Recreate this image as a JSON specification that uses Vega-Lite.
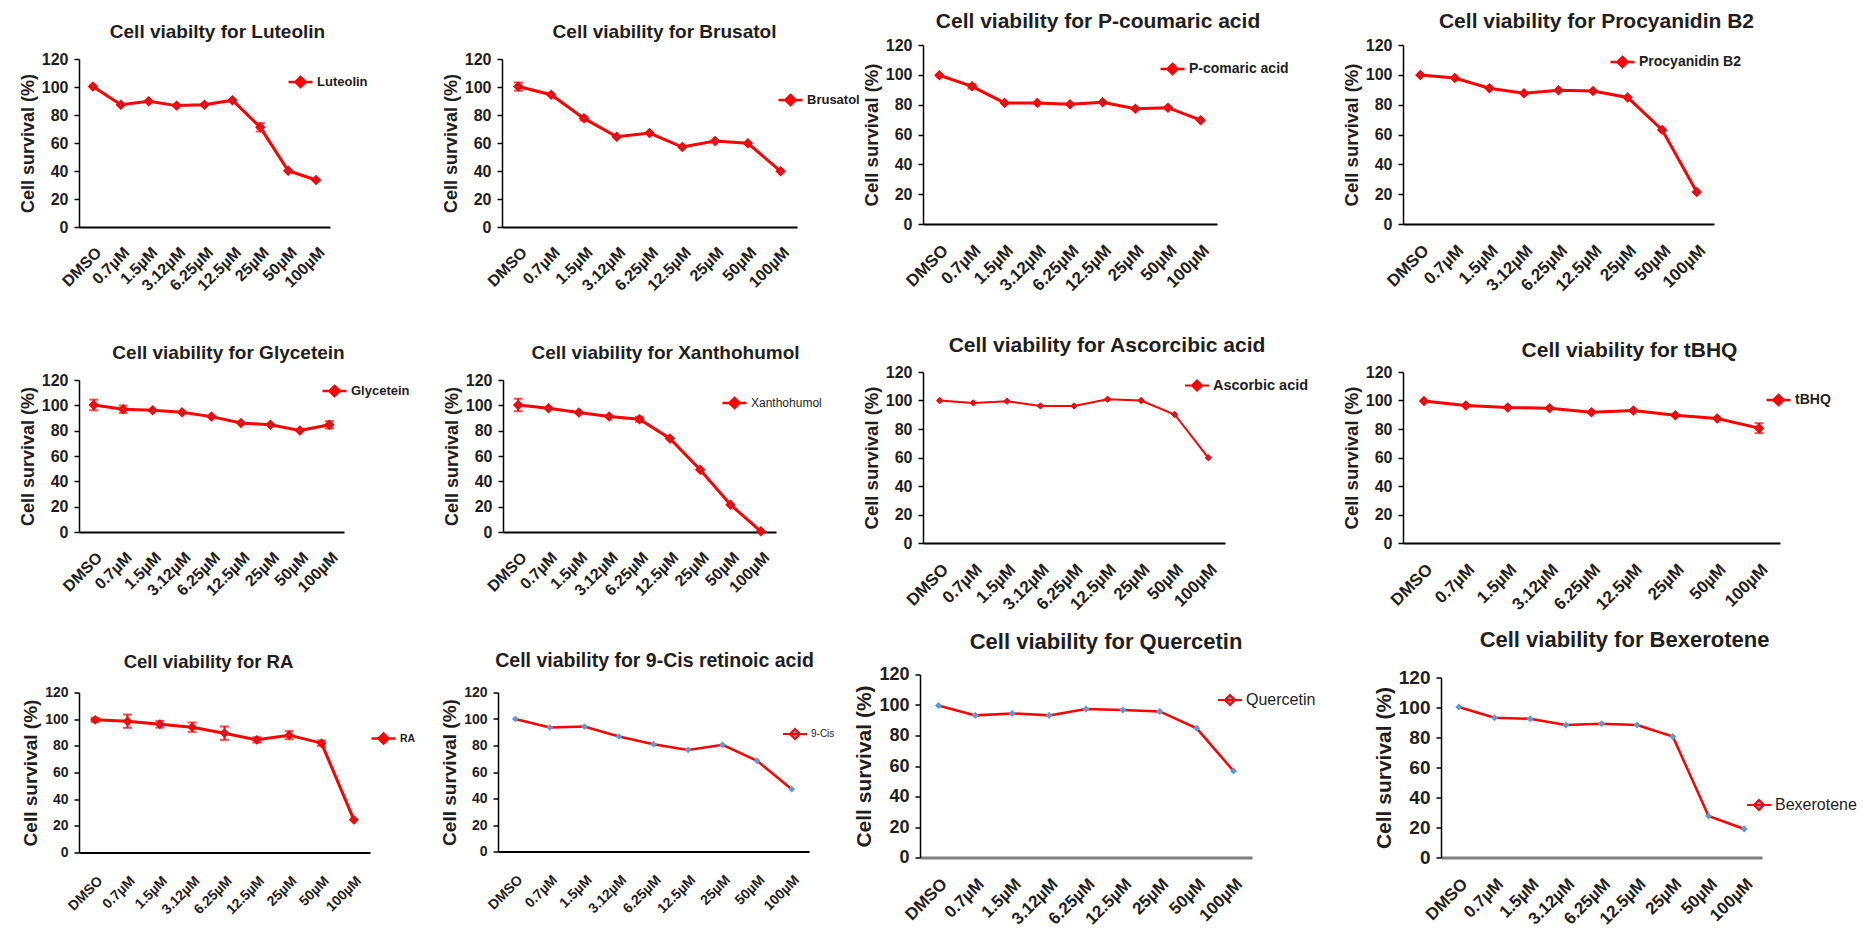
{
"$schema": "https://vega.github.io/schema/vega-lite/v6.json",
"padding": {"left": 19, "top": 11, "right": 0, "bottom": 0},
"background": "white",
"datasets": {"d": [
{"c":"Luteolin","conc":"DMSO","v":100.3},{"c":"Luteolin","conc":"0.7µM","v":87.4},{"c":"Luteolin","conc":"1.5µM","v":89.8},{"c":"Luteolin","conc":"3.12µM","v":86.7},{"c":"Luteolin","conc":"6.25µM","v":87.4},{"c":"Luteolin","conc":"12.5µM","v":90.6},{"c":"Luteolin","conc":"25µM","v":71.2,"err":3},{"c":"Luteolin","conc":"50µM","v":40.2},{"c":"Luteolin","conc":"100µM","v":33.6},
{"c":"Brusatol","conc":"DMSO","v":100.3,"err":2.9},{"c":"Brusatol","conc":"0.7µM","v":94.5},{"c":"Brusatol","conc":"1.5µM","v":77.6,"err":1.5},{"c":"Brusatol","conc":"3.12µM","v":64.5},{"c":"Brusatol","conc":"6.25µM","v":67.1},{"c":"Brusatol","conc":"12.5µM","v":57.1},{"c":"Brusatol","conc":"25µM","v":61.4},{"c":"Brusatol","conc":"50µM","v":59.8},{"c":"Brusatol","conc":"100µM","v":39.8},
{"c":"P-comaric acid","conc":"DMSO","v":99.7},{"c":"P-comaric acid","conc":"0.7µM","v":92.3,"err":1.5},{"c":"P-comaric acid","conc":"1.5µM","v":81.2},{"c":"P-comaric acid","conc":"3.12µM","v":81.2},{"c":"P-comaric acid","conc":"6.25µM","v":80.3},{"c":"P-comaric acid","conc":"12.5µM","v":81.6},{"c":"P-comaric acid","conc":"25µM","v":77.2},{"c":"P-comaric acid","conc":"50µM","v":78},{"c":"P-comaric acid","conc":"100µM","v":69.6},
{"c":"Procyanidin B2","conc":"DMSO","v":99.9},{"c":"Procyanidin B2","conc":"0.7µM","v":97.9},{"c":"Procyanidin B2","conc":"1.5µM","v":91},{"c":"Procyanidin B2","conc":"3.12µM","v":87.7},{"c":"Procyanidin B2","conc":"6.25µM","v":89.7},{"c":"Procyanidin B2","conc":"12.5µM","v":89.2},{"c":"Procyanidin B2","conc":"25µM","v":84.8},{"c":"Procyanidin B2","conc":"50µM","v":63.1},{"c":"Procyanidin B2","conc":"100µM","v":21.4},
{"c":"Glycetein","conc":"DMSO","v":100.3,"err":4.2},{"c":"Glycetein","conc":"0.7µM","v":96.9,"err":2.9},{"c":"Glycetein","conc":"1.5µM","v":96.1},{"c":"Glycetein","conc":"3.12µM","v":94.5},{"c":"Glycetein","conc":"6.25µM","v":91.1},{"c":"Glycetein","conc":"12.5µM","v":86.1},{"c":"Glycetein","conc":"25µM","v":84.6},{"c":"Glycetein","conc":"50µM","v":80.1},{"c":"Glycetein","conc":"100µM","v":84.6,"err":2.9},
{"c":"Xanthohumol","conc":"DMSO","v":100.3,"err":4.9},{"c":"Xanthohumol","conc":"0.7µM","v":97.7},{"c":"Xanthohumol","conc":"1.5µM","v":94.3},{"c":"Xanthohumol","conc":"3.12µM","v":91.1},{"c":"Xanthohumol","conc":"6.25µM","v":89,"err":2},{"c":"Xanthohumol","conc":"12.5µM","v":73.8},{"c":"Xanthohumol","conc":"25µM","v":49.1},{"c":"Xanthohumol","conc":"50µM","v":21.5},{"c":"Xanthohumol","conc":"100µM","v":0.5},
{"c":"Ascorbic acid","conc":"DMSO","v":100},{"c":"Ascorbic acid","conc":"0.7µM","v":98.3},{"c":"Ascorbic acid","conc":"1.5µM","v":99.5},{"c":"Ascorbic acid","conc":"3.12µM","v":96.2},{"c":"Ascorbic acid","conc":"6.25µM","v":96.2},{"c":"Ascorbic acid","conc":"12.5µM","v":100.9},{"c":"Ascorbic acid","conc":"25µM","v":100},{"c":"Ascorbic acid","conc":"50µM","v":90.2},{"c":"Ascorbic acid","conc":"100µM","v":59.9},
{"c":"tBHQ","conc":"DMSO","v":99.7},{"c":"tBHQ","conc":"0.7µM","v":96.5},{"c":"tBHQ","conc":"1.5µM","v":95.1},{"c":"tBHQ","conc":"3.12µM","v":94.6},{"c":"tBHQ","conc":"6.25µM","v":91.8},{"c":"tBHQ","conc":"12.5µM","v":93},{"c":"tBHQ","conc":"25µM","v":89.7},{"c":"tBHQ","conc":"50µM","v":87.4},{"c":"tBHQ","conc":"100µM","v":80.6,"err":3.5},
{"c":"RA","conc":"DMSO","v":99.5,"err":1.5},{"c":"RA","conc":"0.7µM","v":98.5,"err":5},{"c":"RA","conc":"1.5µM","v":96.2,"err":2.5},{"c":"RA","conc":"3.12µM","v":94,"err":3.5},{"c":"RA","conc":"6.25µM","v":89.5,"err":5},{"c":"RA","conc":"12.5µM","v":84.5,"err":2},{"c":"RA","conc":"25µM","v":88,"err":3},{"c":"RA","conc":"50µM","v":82,"err":2},{"c":"RA","conc":"100µM","v":24.5},
{"c":"9-Cis","conc":"DMSO","v":100},{"c":"9-Cis","conc":"0.7µM","v":93.6},{"c":"9-Cis","conc":"1.5µM","v":94.3},{"c":"9-Cis","conc":"3.12µM","v":86.8},{"c":"9-Cis","conc":"6.25µM","v":81},{"c":"9-Cis","conc":"12.5µM","v":76.7},{"c":"9-Cis","conc":"25µM","v":80.5},{"c":"9-Cis","conc":"50µM","v":68.4},{"c":"9-Cis","conc":"100µM","v":47},
{"c":"Quercetin","conc":"DMSO","v":99.7},{"c":"Quercetin","conc":"0.7µM","v":93.2},{"c":"Quercetin","conc":"1.5µM","v":94.5},{"c":"Quercetin","conc":"3.12µM","v":93.2},{"c":"Quercetin","conc":"6.25µM","v":97.3},{"c":"Quercetin","conc":"12.5µM","v":96.7},{"c":"Quercetin","conc":"25µM","v":95.8},{"c":"Quercetin","conc":"50µM","v":84.7},{"c":"Quercetin","conc":"100µM","v":56.7},
{"c":"Bexerotene","conc":"DMSO","v":100.3},{"c":"Bexerotene","conc":"0.7µM","v":93.2},{"c":"Bexerotene","conc":"1.5µM","v":92.5},{"c":"Bexerotene","conc":"3.12µM","v":88.3},{"c":"Bexerotene","conc":"6.25µM","v":89.2},{"c":"Bexerotene","conc":"12.5µM","v":88.3},{"c":"Bexerotene","conc":"25µM","v":80.6},{"c":"Bexerotene","conc":"50µM","v":27.7},{"c":"Bexerotene","conc":"100µM","v":19}
]},
"data": {"name": "d"},
"config": {
  "view": {"stroke": null},
  "font": "Liberation Sans",
  "axis": {"labelFont": "Liberation Sans", "labelFontWeight": "bold", "titleFont": "Liberation Sans", "titleFontWeight": "bold", "labelColor": "#1e1e1e", "titleColor": "#1e1e1e", "domainColor": "#000", "tickColor": "#000", "grid": false},
  "axisX": {"ticks": false, "labelAngle": -45, "domainWidth": 2, "labelOverlap": false},
  "axisY": {"tickSize": 5, "domainWidth": 1.5, "tickWidth": 1.5, "labelPadding": 6, "titlePadding": 4},
  "title": {"font": "Liberation Sans", "fontWeight": "bold", "color": "#1e1e1e", "anchor": "middle"},
  "legend": {"orient": "none", "symbolType": "M-1,0H1M0,-0.42L0.42,0L0,0.42L-0.42,0Z", "symbolSize": 576, "symbolStrokeWidth": 2.5, "symbolStrokeColor": "red", "labelOffset": 3, "labelColor": "#1e1e1e", "labelFont": "Liberation Sans", "padding": 0}
},
"spacing": 41,
"resolve": {"scale": {"color": "independent"}, "legend": {"color": "independent"}},
"vconcat": [
 {"hconcat": [
  {"hconcat": [
   {"width": 251, "height": 182,
    "title": {"text": "Cell viabilty for Luteolin", "fontSize": 19, "offset": 3.5, "dx": 13},
    "transform": [{"filter": "datum.c === 'Luteolin'"}],
    "encoding": {
      "x": {"field": "conc", "type": "ordinal", "sort": ["DMSO","0.7µM","1.5µM","3.12µM","6.25µM","12.5µM","25µM","50µM","100µM"], "scale": {"type": "point", "padding": 0.5}, "axis": {"title": null, "labelFontSize": 16, "labelPadding": 17}},
      "y": {"field": "v", "type": "quantitative", "scale": {"domain": [0, 120], "nice": false, "range": [182, 14]}, "axis": {"title": "Cell survival (%)", "values": [0,20,40,60,80,100,120], "labelFontSize": 16, "titleFontSize": 18}}},
    "layer": [
      {"transform": [{"filter": "datum.err > 0"}], "mark": {"type": "errorbar", "color": "red", "thickness": 2, "ticks": {"size": 9, "thickness": 2, "color": "red"}}, "encoding": {"yError": {"field": "err"}}},
      {"mark": {"type": "line", "color": "red", "strokeWidth": 3}},
      {"mark": {"type": "point", "shape": "diamond", "filled": true, "size": 70, "stroke": "red", "strokeWidth": 1.5, "opacity": 1}, "encoding": {"color": {"field": "c", "type": "nominal", "scale": {"range": ["red"]}, "legend": {"title": null, "legendX": 208, "legendY": 23.5, "labelFontSize": 13, "labelFontWeight": "bold"}}}},
      {"mark": {"type": "point", "shape": "diamond", "filled": true, "size": 6, "color": "#4a5aa8", "opacity": 1}}
    ]},
   {"width": 295, "height": 182,
    "title": {"text": "Cell viability for Brusatol", "fontSize": 19, "offset": 3.5, "dx": 15},
    "transform": [{"filter": "datum.c === 'Brusatol'"}],
    "encoding": {
      "x": {"field": "conc", "type": "ordinal", "sort": ["DMSO","0.7µM","1.5µM","3.12µM","6.25µM","12.5µM","25µM","50µM","100µM"], "scale": {"type": "point", "padding": 0.5}, "axis": {"title": null, "labelFontSize": 16, "labelPadding": 17}},
      "y": {"field": "v", "type": "quantitative", "scale": {"domain": [0, 120], "nice": false, "range": [182, 14]}, "axis": {"title": "Cell survival (%)", "values": [0,20,40,60,80,100,120], "labelFontSize": 16, "titleFontSize": 18}}},
    "layer": [
      {"transform": [{"filter": "datum.err > 0"}], "mark": {"type": "errorbar", "color": "red", "thickness": 2, "ticks": {"size": 9, "thickness": 2, "color": "red"}}, "encoding": {"yError": {"field": "err"}}},
      {"mark": {"type": "line", "color": "red", "strokeWidth": 3}},
      {"mark": {"type": "point", "shape": "diamond", "filled": true, "size": 70, "stroke": "red", "strokeWidth": 1.5, "opacity": 1}, "encoding": {"color": {"field": "c", "type": "nominal", "scale": {"range": ["red"]}, "legend": {"title": null, "legendX": 275, "legendY": 41.5, "labelFontSize": 13, "labelFontWeight": "bold"}}}},
      {"mark": {"type": "point", "shape": "diamond", "filled": true, "size": 6, "color": "#4a5aa8", "opacity": 1}}
    ]}
  ], "spacing": 172, "bounds": "flush", "resolve": {"scale": {"color": "independent"}, "legend": {"color": "independent"}}},
  {"hconcat": [
   {"width": 294, "height": 179,
    "title": {"text": "Cell viability for P-coumaric acid", "fontSize": 21, "offset": 5, "dx": 28},
    "transform": [{"filter": "datum.c === 'P-comaric acid'"}],
    "encoding": {
      "x": {"field": "conc", "type": "ordinal", "sort": ["DMSO","0.7µM","1.5µM","3.12µM","6.25µM","12.5µM","25µM","50µM","100µM"], "scale": {"type": "point", "padding": 0.5}, "axis": {"title": null, "labelFontSize": 17, "labelPadding": 18}},
      "y": {"field": "v", "type": "quantitative", "scale": {"domain": [0, 120], "nice": false}, "axis": {"title": "Cell survival (%)", "values": [0,20,40,60,80,100,120], "labelFontSize": 16, "titleFontSize": 18.5}}},
    "layer": [
      {"transform": [{"filter": "datum.err > 0"}], "mark": {"type": "errorbar", "color": "red", "thickness": 2, "ticks": {"size": 9, "thickness": 2, "color": "red"}}, "encoding": {"yError": {"field": "err"}}},
      {"mark": {"type": "line", "color": "red", "strokeWidth": 3}},
      {"mark": {"type": "point", "shape": "diamond", "filled": true, "size": 70, "stroke": "red", "strokeWidth": 1.5, "opacity": 1}, "encoding": {"color": {"field": "c", "type": "nominal", "scale": {"range": ["red"]}, "legend": {"title": null, "legendX": 236, "legendY": 10.5, "labelFontSize": 14, "labelFontWeight": "bold"}}}},
      {"mark": {"type": "point", "shape": "diamond", "filled": true, "size": 6, "color": "#4a5aa8", "opacity": 1}}
    ]},
   {"width": 311, "height": 179,
    "title": {"text": "Cell viability for Procyanidin B2", "fontSize": 21, "offset": 5, "dx": 38},
    "transform": [{"filter": "datum.c === 'Procyanidin B2'"}],
    "encoding": {
      "x": {"field": "conc", "type": "ordinal", "sort": ["DMSO","0.7µM","1.5µM","3.12µM","6.25µM","12.5µM","25µM","50µM","100µM"], "scale": {"type": "point", "padding": 0.5}, "axis": {"title": null, "labelFontSize": 17, "labelPadding": 18}},
      "y": {"field": "v", "type": "quantitative", "scale": {"domain": [0, 120], "nice": false}, "axis": {"title": "Cell survival (%)", "values": [0,20,40,60,80,100,120], "labelFontSize": 16, "titleFontSize": 18.5}}},
    "layer": [
      {"transform": [{"filter": "datum.err > 0"}], "mark": {"type": "errorbar", "color": "red", "thickness": 2, "ticks": {"size": 9, "thickness": 2, "color": "red"}}, "encoding": {"yError": {"field": "err"}}},
      {"mark": {"type": "line", "color": "red", "strokeWidth": 3}},
      {"mark": {"type": "point", "shape": "diamond", "filled": true, "size": 70, "stroke": "red", "strokeWidth": 1.5, "opacity": 1}, "encoding": {"color": {"field": "c", "type": "nominal", "scale": {"range": ["red"]}, "legend": {"title": null, "legendX": 206, "legendY": 3.5, "labelFontSize": 14, "labelFontWeight": "bold"}}}},
      {"mark": {"type": "point", "shape": "diamond", "filled": true, "size": 6, "color": "#4a5aa8", "opacity": 1}}
    ]}
  ], "spacing": 186, "bounds": "flush", "resolve": {"scale": {"color": "independent"}, "legend": {"color": "independent"}}}
 ], "spacing": 2, "resolve": {"scale": {"color": "independent"}, "legend": {"color": "independent"}}},
 {"vconcat": [
 {"hconcat": [
  {"hconcat": [
   {"width": 265, "height": 160,
    "title": {"text": "Cell viability for Glycetein", "fontSize": 19, "offset": 9, "dx": 17},
    "transform": [{"filter": "datum.c === 'Glycetein'"}],
    "encoding": {
      "x": {"field": "conc", "type": "ordinal", "sort": ["DMSO","0.7µM","1.5µM","3.12µM","6.25µM","12.5µM","25µM","50µM","100µM"], "scale": {"type": "point", "padding": 0.5}, "axis": {"title": null, "labelFontSize": 16, "labelPadding": 17}},
      "y": {"field": "v", "type": "quantitative", "scale": {"domain": [0, 120], "nice": false, "range": [160, 8]}, "axis": {"title": "Cell survival (%)", "values": [0,20,40,60,80,100,120], "labelFontSize": 16, "titleFontSize": 18}}},
    "layer": [
      {"transform": [{"filter": "datum.err > 0"}], "mark": {"type": "errorbar", "color": "red", "thickness": 2, "ticks": {"size": 9, "thickness": 2, "color": "red"}}, "encoding": {"yError": {"field": "err"}}},
      {"mark": {"type": "line", "color": "red", "strokeWidth": 3}},
      {"mark": {"type": "point", "shape": "diamond", "filled": true, "size": 70, "stroke": "red", "strokeWidth": 1.5, "opacity": 1}, "encoding": {"color": {"field": "c", "type": "nominal", "scale": {"range": ["red"]}, "legend": {"title": null, "legendX": 242, "legendY": 5.5, "labelFontSize": 13, "labelFontWeight": "bold"}}}},
      {"mark": {"type": "point", "shape": "diamond", "filled": true, "size": 6, "color": "#4a5aa8", "opacity": 1}}
    ]},
   {"width": 273, "height": 160,
    "title": {"text": "Cell viability for Xanthohumol", "fontSize": 19, "offset": 9, "dx": 26},
    "transform": [{"filter": "datum.c === 'Xanthohumol'"}],
    "encoding": {
      "x": {"field": "conc", "type": "ordinal", "sort": ["DMSO","0.7µM","1.5µM","3.12µM","6.25µM","12.5µM","25µM","50µM","100µM"], "scale": {"type": "point", "padding": 0.5}, "axis": {"title": null, "labelFontSize": 16, "labelPadding": 17}},
      "y": {"field": "v", "type": "quantitative", "scale": {"domain": [0, 120], "nice": false, "range": [160, 8]}, "axis": {"title": "Cell survival (%)", "values": [0,20,40,60,80,100,120], "labelFontSize": 16, "titleFontSize": 18}}},
    "layer": [
      {"transform": [{"filter": "datum.err > 0"}], "mark": {"type": "errorbar", "color": "red", "thickness": 2, "ticks": {"size": 9, "thickness": 2, "color": "red"}}, "encoding": {"yError": {"field": "err"}}},
      {"mark": {"type": "line", "color": "red", "strokeWidth": 3}},
      {"mark": {"type": "point", "shape": "diamond", "filled": true, "size": 70, "stroke": "red", "strokeWidth": 1.5, "opacity": 1}, "encoding": {"color": {"field": "c", "type": "nominal", "scale": {"range": ["red"]}, "legend": {"title": null, "legendX": 218, "legendY": 17.5, "labelFontSize": 12, "labelFontWeight": "normal"}}}},
      {"mark": {"type": "point", "shape": "diamond", "filled": true, "size": 6, "color": "#4a5aa8", "opacity": 1}}
    ]}
  ], "spacing": 159, "bounds": "flush", "resolve": {"scale": {"color": "independent"}, "legend": {"color": "independent"}}},
  {"hconcat": [
   {"width": 302, "height": 171,
    "title": {"text": "Cell viability for Ascorcibic acid", "fontSize": 21, "offset": 8, "dx": 33},
    "transform": [{"filter": "datum.c === 'Ascorbic acid'"}],
    "encoding": {
      "x": {"field": "conc", "type": "ordinal", "sort": ["DMSO","0.7µM","1.5µM","3.12µM","6.25µM","12.5µM","25µM","50µM","100µM"], "scale": {"type": "point", "padding": 0.5}, "axis": {"title": null, "labelFontSize": 17, "labelPadding": 18}},
      "y": {"field": "v", "type": "quantitative", "scale": {"domain": [0, 120], "nice": false}, "axis": {"title": "Cell survival (%)", "values": [0,20,40,60,80,100,120], "labelFontSize": 16, "titleFontSize": 18.5}}},
    "layer": [
      {"mark": {"type": "line", "color": "red", "strokeWidth": 2}},
      {"mark": {"type": "point", "shape": "diamond", "filled": true, "size": 40, "stroke": "red", "strokeWidth": 1, "opacity": 1}, "encoding": {"color": {"field": "c", "type": "nominal", "scale": {"range": ["red"]}, "legend": {"title": null, "legendX": 261, "legendY": 0.5, "labelFontSize": 14.5, "labelFontWeight": "bold", "symbolStrokeWidth": 2}}}},
      {"mark": {"type": "point", "shape": "diamond", "filled": true, "size": 5, "color": "#4a5aa8", "opacity": 1}}
    ]},
   {"width": 377, "height": 171,
    "title": {"text": "Cell viability for tBHQ", "fontSize": 21, "offset": 3, "dx": 38},
    "transform": [{"filter": "datum.c === 'tBHQ'"}],
    "encoding": {
      "x": {"field": "conc", "type": "ordinal", "sort": ["DMSO","0.7µM","1.5µM","3.12µM","6.25µM","12.5µM","25µM","50µM","100µM"], "scale": {"type": "point", "padding": 0.5}, "axis": {"title": null, "labelFontSize": 17, "labelPadding": 18}},
      "y": {"field": "v", "type": "quantitative", "scale": {"domain": [0, 120], "nice": false}, "axis": {"title": "Cell survival (%)", "values": [0,20,40,60,80,100,120], "labelFontSize": 16, "titleFontSize": 18.5}}},
    "layer": [
      {"transform": [{"filter": "datum.err > 0"}], "mark": {"type": "errorbar", "color": "red", "thickness": 2, "ticks": {"size": 9, "thickness": 2, "color": "red"}}, "encoding": {"yError": {"field": "err"}}},
      {"mark": {"type": "line", "color": "red", "strokeWidth": 3}},
      {"mark": {"type": "point", "shape": "diamond", "filled": true, "size": 70, "stroke": "red", "strokeWidth": 1.5, "opacity": 1}, "encoding": {"color": {"field": "c", "type": "nominal", "scale": {"range": ["red"]}, "legend": {"title": null, "legendX": 362, "legendY": 14.5, "labelFontSize": 14, "labelFontWeight": "bold"}}}},
      {"mark": {"type": "point", "shape": "diamond", "filled": true, "size": 6, "color": "#4a5aa8", "opacity": 1}}
    ]}
  ], "spacing": 178, "bounds": "flush", "resolve": {"scale": {"color": "independent"}, "legend": {"color": "independent"}}}
 ], "spacing": 40, "resolve": {"scale": {"color": "independent"}, "legend": {"color": "independent"}}},
 {"hconcat": [
  {"hconcat": [
   {"width": 291, "height": 178,
    "title": {"text": "Cell viability for RA", "fontSize": 18.5, "offset": 3.3, "dx": -16},
    "transform": [{"filter": "datum.c === 'RA'"}],
    "encoding": {
      "x": {"field": "conc", "type": "ordinal", "sort": ["DMSO","0.7µM","1.5µM","3.12µM","6.25µM","12.5µM","25µM","50µM","100µM"], "scale": {"type": "point", "padding": 0.5}, "axis": {"title": null, "labelFontSize": 14, "labelPadding": 21}},
      "y": {"field": "v", "type": "quantitative", "scale": {"domain": [0, 120], "nice": false, "range": [178, 18]}, "axis": {"title": "Cell survival (%)", "values": [0,20,40,60,80,100,120], "labelFontSize": 14, "titleFontSize": 19}}},
    "layer": [
      {"transform": [{"filter": "datum.err > 0"}], "mark": {"type": "errorbar", "color": "red", "thickness": 2, "ticks": {"size": 9, "thickness": 2, "color": "red"}}, "encoding": {"yError": {"field": "err"}}},
      {"mark": {"type": "line", "color": "red", "strokeWidth": 3}},
      {"mark": {"type": "point", "shape": "diamond", "filled": true, "size": 60, "stroke": "red", "strokeWidth": 1.5, "opacity": 1}, "encoding": {"color": {"field": "c", "type": "nominal", "scale": {"range": ["red"]}, "legend": {"title": null, "legendX": 291, "legendY": 50.5, "labelFontSize": 10.5, "labelFontWeight": "bold"}}}},
      {"mark": {"type": "point", "shape": "diamond", "filled": true, "size": 6, "color": "#4a5aa8", "opacity": 1}}
    ]},
   {"width": 311, "height": 177,
    "title": {"text": "Cell viability for 9-Cis retinoic acid", "fontSize": 19.5, "offset": 3.3, "dx": 1},
    "transform": [{"filter": "datum.c === '9-Cis'"}],
    "encoding": {
      "x": {"field": "conc", "type": "ordinal", "sort": ["DMSO","0.7µM","1.5µM","3.12µM","6.25µM","12.5µM","25µM","50µM","100µM"], "scale": {"type": "point", "padding": 0.5}, "axis": {"title": null, "labelFontSize": 14, "labelPadding": 21}},
      "y": {"field": "v", "type": "quantitative", "scale": {"domain": [0, 120], "nice": false, "range": [177, 18]}, "axis": {"title": "Cell survival (%)", "values": [0,20,40,60,80,100,120], "labelFontSize": 14, "titleFontSize": 19}}},
    "layer": [
      {"mark": {"type": "line", "color": "red", "strokeWidth": 2.5}},
      {"mark": {"type": "point", "shape": "diamond", "filled": true, "size": 45, "opacity": 1}, "encoding": {"color": {"field": "c", "type": "nominal", "scale": {"range": ["#5b9bd5"]}, "legend": {"title": null, "legendX": 284, "legendY": 46.5, "labelFontSize": 10, "labelFontWeight": "normal", "symbolStrokeWidth": 2}}}}
    ]}
  ], "spacing": 128, "bounds": "flush", "resolve": {"scale": {"color": "independent"}, "legend": {"color": "independent"}}},
  {"hconcat": [
   {"width": 332, "height": 183,
    "title": {"text": "Cell viability for Quercetin", "fontSize": 22, "offset": 11.5, "dx": 20},
    "transform": [{"filter": "datum.c === 'Quercetin'"}],
    "encoding": {
      "x": {"field": "conc", "type": "ordinal", "sort": ["DMSO","0.7µM","1.5µM","3.12µM","6.25µM","12.5µM","25µM","50µM","100µM"], "scale": {"type": "point", "padding": 0.5}, "axis": {"title": null, "labelFontSize": 17, "labelPadding": 18, "domainColor": "#7f7f7f", "domainWidth": 3}},
      "y": {"field": "v", "type": "quantitative", "scale": {"domain": [0, 120], "nice": false}, "axis": {"title": "Cell survival (%)", "values": [0,20,40,60,80,100,120], "labelFontSize": 18, "titleFontSize": 21}}},
    "layer": [
      {"mark": {"type": "line", "color": "red", "strokeWidth": 2.5}},
      {"mark": {"type": "point", "shape": "diamond", "filled": true, "size": 50, "opacity": 1}, "encoding": {"color": {"field": "c", "type": "nominal", "scale": {"range": ["#5b9bd5"]}, "legend": {"title": null, "legendX": 297, "legendY": 12.5, "labelFontSize": 16, "labelFontWeight": "normal", "symbolStrokeWidth": 2}}}}
    ]},
   {"width": 321, "height": 183,
    "title": {"text": "Cell viability for Bexerotene", "fontSize": 22, "offset": 17, "dx": 23},
    "transform": [{"filter": "datum.c === 'Bexerotene'"}],
    "encoding": {
      "x": {"field": "conc", "type": "ordinal", "sort": ["DMSO","0.7µM","1.5µM","3.12µM","6.25µM","12.5µM","25µM","50µM","100µM"], "scale": {"type": "point", "padding": 0.5}, "axis": {"title": null, "labelFontSize": 17, "labelPadding": 18, "domainColor": "#7f7f7f", "domainWidth": 3}},
      "y": {"field": "v", "type": "quantitative", "scale": {"domain": [0, 120], "nice": false, "range": [183, 3]}, "axis": {"title": "Cell survival (%)", "values": [0,20,40,60,80,100,120], "labelFontSize": 19, "titleFontSize": 21}}},
    "layer": [
      {"mark": {"type": "line", "color": "red", "strokeWidth": 2.5}},
      {"mark": {"type": "point", "shape": "diamond", "filled": true, "size": 50, "opacity": 1}, "encoding": {"color": {"field": "c", "type": "nominal", "scale": {"range": ["#5b9bd5"]}, "legend": {"title": null, "legendX": 305, "legendY": 117.5, "labelFontSize": 16, "labelFontWeight": "normal", "symbolStrokeWidth": 2}}}}
    ]}
  ], "spacing": 189, "bounds": "flush", "resolve": {"scale": {"color": "independent"}, "legend": {"color": "independent"}}}
 ], "spacing": 18, "resolve": {"scale": {"color": "independent"}, "legend": {"color": "independent"}}}
 ], "spacing": 15.5, "resolve": {"scale": {"color": "independent"}, "legend": {"color": "independent"}}}
]
}
